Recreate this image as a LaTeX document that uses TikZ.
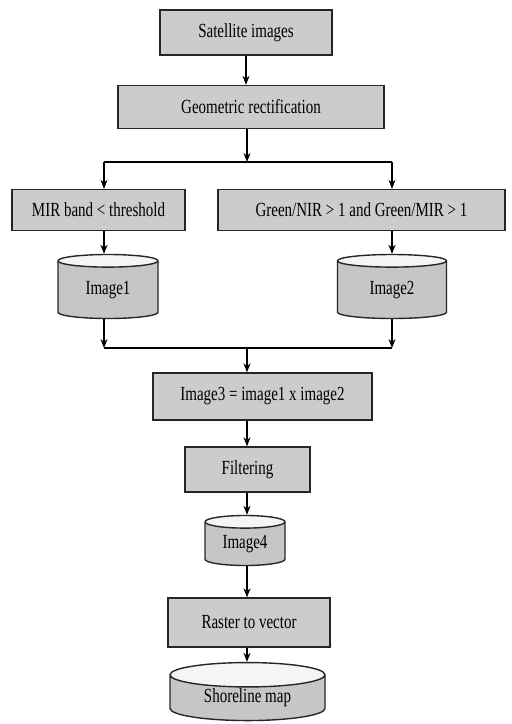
\documentclass[tikz,border=0pt]{standalone}
\usepackage{fontspec}
\setmainfont{Liberation Serif}[FakeStretch=0.75]
\usetikzlibrary{arrows.meta,shapes.geometric}
\begin{document}
\begin{tikzpicture}[x=1pt, y=-1pt,
    font=\fontsize{20}{22}\selectfont,
    proc/.style={draw=black!85, line width=1.4pt, fill=gray!40, inner sep=2pt},
    store/.style={cylinder, shape border rotate=90, aspect=0.28, draw=black!85,
      line width=1.4pt, cylinder uses custom fill, cylinder body fill=gray!45,
      cylinder end fill=gray!8, inner sep=0pt},
    arr/.style={-{Stealth[length=9pt,width=7pt]}, line width=1.2pt},
    lin/.style={line width=1.2pt}]
  \useasboundingbox (0,0) rectangle (512,724);
  % input and rectification
  \node[proc, minimum width=172pt, minimum height=45pt] (sat) at (246,32.5) {Satellite images};
  \node[proc, minimum width=266pt, minimum height=43pt] (geo) at (251,107) {Geometric rectification};
  % two classifications
  \node[proc, minimum width=173pt, minimum height=41pt] (mir) at (98.5,210) {MIR band < threshold};
  \node[proc, minimum width=287pt, minimum height=41pt] (green) at (361.5,210) {Green/NIR > 1 and Green/MIR > 1};
  \node[store, minimum width=100pt, minimum height=64pt] (img1) at (108,290) {Image1};
  \node[store, minimum width=109pt, minimum height=64pt] (img2) at (392,290) {Image2};
  % combination and output
  \node[proc, minimum width=219pt, minimum height=47pt] (img3) at (262.5,396.5) {Image3 = image1 x image2};
  \node[proc, minimum width=125pt, minimum height=45pt] (filt) at (247.5,469.5) {Filtering};
  \node[store, minimum width=80pt, minimum height=50pt] (img4) at (245,544) {Image4};
  \node[proc, minimum width=162pt, minimum height=49pt] (rast) at (249,622.5) {Raster to vector};
  \node[store, minimum width=155pt, minimum height=58pt] (shore) at (247.5,698) {Shoreline map};
  % branch and join points
  \coordinate (split) at (247,162);
  \coordinate (splitL) at (104,162);
  \coordinate (splitR) at (392,162);
  \coordinate (join) at (247,348);
  \coordinate (joinL) at (104,348);
  \coordinate (joinR) at (392,348);
  % connectors
  \draw[arr] (sat.south) -- (sat.south |- geo.north);
  \draw[arr] (geo.south -| split) -- (split);
  \draw[lin] (splitL) -- (splitR);
  \draw[arr] (splitL) -- (splitL |- mir.north);
  \draw[arr] (splitR) -- (splitR |- green.north);
  \draw[arr] (mir.south -| splitL) -- (splitL |- img1.north);
  \draw[arr] (green.south -| splitR) -- (splitR |- img2.north);
  \draw[arr] (img1.south -| joinL) -- (joinL);
  \draw[arr] (img2.south -| joinR) -- (joinR);
  \draw[lin] (joinL) -- (joinR);
  \draw[arr] (join) -- (join |- img3.north);
  \draw[arr] (img3.south -| join) -- (join |- filt.north);
  \draw[arr] (filt.south -| join) -- (join |- img4.north);
  \draw[arr] (img4.south -| join) -- (join |- rast.north);
  \draw[arr] (rast.south -| join) -- (join |- shore.north);
\end{tikzpicture}
\end{document}
